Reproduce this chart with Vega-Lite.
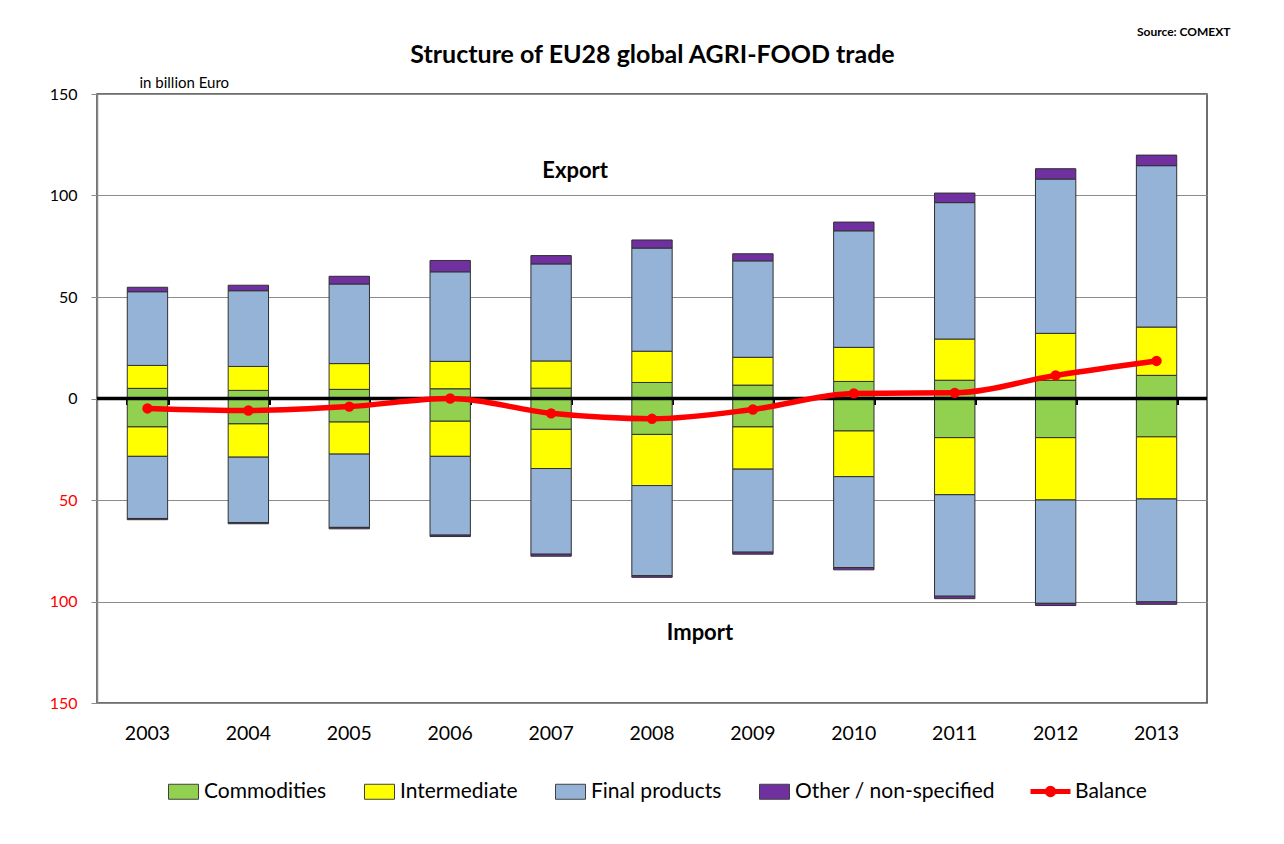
{
  "$schema": "https://vega.github.io/schema/vega-lite/v6.json",
  "width": 1110,
  "height": 609,
  "autosize": "none",
  "padding": {"left": 97, "top": 94, "right": 77, "bottom": 141},
  "background": "white",
  "config": {
    "font": "Lato",
    "view": {"stroke": "#404040", "strokeWidth": 1.5},
    "axis": {"labelColor": "black", "titleColor": "black"}
  },
  "datasets": {
    "trade": [
      {"year": "2003", "flow": "Export", "category": "Commodities", "value": 5.0},
      {"year": "2003", "flow": "Export", "category": "Intermediate", "value": 11.3},
      {"year": "2003", "flow": "Export", "category": "Final products", "value": 36.3},
      {"year": "2003", "flow": "Export", "category": "Other / non-specified", "value": 2.2},
      {"year": "2003", "flow": "Import", "category": "Commodities", "value": -14.0},
      {"year": "2003", "flow": "Import", "category": "Intermediate", "value": -14.5},
      {"year": "2003", "flow": "Import", "category": "Final products", "value": -30.6},
      {"year": "2003", "flow": "Import", "category": "Other / non-specified", "value": -0.6},
      {"year": "2004", "flow": "Export", "category": "Commodities", "value": 4.0},
      {"year": "2004", "flow": "Export", "category": "Intermediate", "value": 11.8},
      {"year": "2004", "flow": "Export", "category": "Final products", "value": 37.3},
      {"year": "2004", "flow": "Export", "category": "Other / non-specified", "value": 2.7},
      {"year": "2004", "flow": "Import", "category": "Commodities", "value": -12.5},
      {"year": "2004", "flow": "Import", "category": "Intermediate", "value": -16.4},
      {"year": "2004", "flow": "Import", "category": "Final products", "value": -32.2},
      {"year": "2004", "flow": "Import", "category": "Other / non-specified", "value": -0.6},
      {"year": "2005", "flow": "Export", "category": "Commodities", "value": 4.5},
      {"year": "2005", "flow": "Export", "category": "Intermediate", "value": 12.7},
      {"year": "2005", "flow": "Export", "category": "Final products", "value": 39.2},
      {"year": "2005", "flow": "Export", "category": "Other / non-specified", "value": 3.8},
      {"year": "2005", "flow": "Import", "category": "Commodities", "value": -11.6},
      {"year": "2005", "flow": "Import", "category": "Intermediate", "value": -15.8},
      {"year": "2005", "flow": "Import", "category": "Final products", "value": -36.1},
      {"year": "2005", "flow": "Import", "category": "Other / non-specified", "value": -0.7},
      {"year": "2006", "flow": "Export", "category": "Commodities", "value": 4.8},
      {"year": "2006", "flow": "Export", "category": "Intermediate", "value": 13.5},
      {"year": "2006", "flow": "Export", "category": "Final products", "value": 44.1},
      {"year": "2006", "flow": "Export", "category": "Other / non-specified", "value": 5.6},
      {"year": "2006", "flow": "Import", "category": "Commodities", "value": -11.2},
      {"year": "2006", "flow": "Import", "category": "Intermediate", "value": -17.3},
      {"year": "2006", "flow": "Import", "category": "Final products", "value": -38.8},
      {"year": "2006", "flow": "Import", "category": "Other / non-specified", "value": -0.7},
      {"year": "2007", "flow": "Export", "category": "Commodities", "value": 5.1},
      {"year": "2007", "flow": "Export", "category": "Intermediate", "value": 13.4},
      {"year": "2007", "flow": "Export", "category": "Final products", "value": 47.8},
      {"year": "2007", "flow": "Export", "category": "Other / non-specified", "value": 4.1},
      {"year": "2007", "flow": "Import", "category": "Commodities", "value": -15.2},
      {"year": "2007", "flow": "Import", "category": "Intermediate", "value": -19.3},
      {"year": "2007", "flow": "Import", "category": "Final products", "value": -42.2},
      {"year": "2007", "flow": "Import", "category": "Other / non-specified", "value": -1.0},
      {"year": "2008", "flow": "Export", "category": "Commodities", "value": 7.9},
      {"year": "2008", "flow": "Export", "category": "Intermediate", "value": 15.4},
      {"year": "2008", "flow": "Export", "category": "Final products", "value": 50.8},
      {"year": "2008", "flow": "Export", "category": "Other / non-specified", "value": 4.0},
      {"year": "2008", "flow": "Import", "category": "Commodities", "value": -17.7},
      {"year": "2008", "flow": "Import", "category": "Intermediate", "value": -25.2},
      {"year": "2008", "flow": "Import", "category": "Final products", "value": -44.4},
      {"year": "2008", "flow": "Import", "category": "Other / non-specified", "value": -0.8},
      {"year": "2009", "flow": "Export", "category": "Commodities", "value": 6.6},
      {"year": "2009", "flow": "Export", "category": "Intermediate", "value": 13.7},
      {"year": "2009", "flow": "Export", "category": "Final products", "value": 47.5},
      {"year": "2009", "flow": "Export", "category": "Other / non-specified", "value": 3.5},
      {"year": "2009", "flow": "Import", "category": "Commodities", "value": -14.0},
      {"year": "2009", "flow": "Import", "category": "Intermediate", "value": -20.8},
      {"year": "2009", "flow": "Import", "category": "Final products", "value": -40.9},
      {"year": "2009", "flow": "Import", "category": "Other / non-specified", "value": -1.0},
      {"year": "2010", "flow": "Export", "category": "Commodities", "value": 8.4},
      {"year": "2010", "flow": "Export", "category": "Intermediate", "value": 16.8},
      {"year": "2010", "flow": "Export", "category": "Final products", "value": 57.4},
      {"year": "2010", "flow": "Export", "category": "Other / non-specified", "value": 4.3},
      {"year": "2010", "flow": "Import", "category": "Commodities", "value": -16.0},
      {"year": "2010", "flow": "Import", "category": "Intermediate", "value": -22.5},
      {"year": "2010", "flow": "Import", "category": "Final products", "value": -44.8},
      {"year": "2010", "flow": "Import", "category": "Other / non-specified", "value": -1.1},
      {"year": "2011", "flow": "Export", "category": "Commodities", "value": 9.0},
      {"year": "2011", "flow": "Export", "category": "Intermediate", "value": 20.3},
      {"year": "2011", "flow": "Export", "category": "Final products", "value": 67.2},
      {"year": "2011", "flow": "Export", "category": "Other / non-specified", "value": 4.7},
      {"year": "2011", "flow": "Import", "category": "Commodities", "value": -19.3},
      {"year": "2011", "flow": "Import", "category": "Intermediate", "value": -28.1},
      {"year": "2011", "flow": "Import", "category": "Final products", "value": -50.0},
      {"year": "2011", "flow": "Import", "category": "Other / non-specified", "value": -1.2},
      {"year": "2012", "flow": "Export", "category": "Commodities", "value": 9.0},
      {"year": "2012", "flow": "Export", "category": "Intermediate", "value": 23.1},
      {"year": "2012", "flow": "Export", "category": "Final products", "value": 76.0},
      {"year": "2012", "flow": "Export", "category": "Other / non-specified", "value": 5.1},
      {"year": "2012", "flow": "Import", "category": "Commodities", "value": -19.3},
      {"year": "2012", "flow": "Import", "category": "Intermediate", "value": -30.7},
      {"year": "2012", "flow": "Import", "category": "Final products", "value": -50.9},
      {"year": "2012", "flow": "Import", "category": "Other / non-specified", "value": -1.1},
      {"year": "2013", "flow": "Export", "category": "Commodities", "value": 11.4},
      {"year": "2013", "flow": "Export", "category": "Intermediate", "value": 23.8},
      {"year": "2013", "flow": "Export", "category": "Final products", "value": 79.5},
      {"year": "2013", "flow": "Export", "category": "Other / non-specified", "value": 5.2},
      {"year": "2013", "flow": "Import", "category": "Commodities", "value": -18.9},
      {"year": "2013", "flow": "Import", "category": "Intermediate", "value": -30.6},
      {"year": "2013", "flow": "Import", "category": "Final products", "value": -50.7},
      {"year": "2013", "flow": "Import", "category": "Other / non-specified", "value": -1.2}
    ],
    "balance": [
      {"year": "2003", "balance": -4.9},
      {"year": "2004", "balance": -5.9},
      {"year": "2005", "balance": -4.0},
      {"year": "2006", "balance": 0.0},
      {"year": "2007", "balance": -7.3},
      {"year": "2008", "balance": -10.0},
      {"year": "2009", "balance": -5.4},
      {"year": "2010", "balance": 2.5},
      {"year": "2011", "balance": 2.8},
      {"year": "2012", "balance": 11.4},
      {"year": "2013", "balance": 18.5}
    ]
  },
  "layer": [
    {
      "data": {"name": "trade"},
      "transform": [
        {"calculate": "indexof(['Commodities','Intermediate','Final products','Other / non-specified'], datum.category)", "as": "stackOrder"}
      ],
      "mark": {"type": "bar", "stroke": "#303030", "strokeWidth": 1},
      "encoding": {
        "x": {
          "field": "year", "type": "ordinal",
          "scale": {"paddingInner": 0.6, "paddingOuter": 0.3},
          "axis": {"orient": "bottom", "title": null, "labelAngle": 0, "labelFontSize": 19.5, "labelPadding": 21, "ticks": false, "domain": false, "grid": false}
        },
        "y": {
          "field": "value", "type": "quantitative", "stack": "zero",
          "scale": {"domain": [-150, 150], "nice": false},
          "axis": {
            "orient": "left",
            "values": [-150, -100, -50, 0, 50, 100, 150],
            "labelExpr": "abs(datum.value)",
            "labelColor": {"condition": {"test": "datum.value < 0", "value": "#FF0000"}, "value": "black"},
            "labelFontSize": 16, "labelPadding": 14,
            "tickSize": 6, "tickColor": "#8c8c8c",
            "domainColor": "#868686", "domainWidth": 1.5,
            "grid": true, "gridColor": "#8c8c8c", "gridWidth": 1,
            "title": "in billion Euro", "titleAngle": 0, "titleX": 42, "titleY": -12,
            "titleAlign": "left", "titleBaseline": "middle", "titleFontWeight": "normal", "titleFontSize": 15
          }
        },
        "order": {"field": "stackOrder", "type": "quantitative", "sort": "ascending"},
        "color": {
          "field": "category", "type": "nominal",
          "sort": ["Commodities", "Intermediate", "Final products", "Other / non-specified"],
          "scale": {
            "domain": ["Commodities", "Intermediate", "Final products", "Other / non-specified"],
            "range": ["#92D050", "#FFFF00", "#95B3D7", "#7030A0"]
          },
          "legend": {
            "orient": "none", "legendX": 71, "legendY": 682, "title": null,
            "direction": "horizontal", "padding": 0,
            "symbolType": "M-1,-0.5H1V0.5H-1Z", "symbolSize": 900,
            "symbolStrokeColor": "#404040", "symbolStrokeWidth": 1, "symbolOpacity": 1,
            "labelFontSize": 21, "labelOffset": 5, "columnPadding": 35, "labelColor": "black", "labelLimit": 400
          }
        }
      }
    },
    {
      "data": {"values": [{}]},
      "mark": {"type": "rule", "color": "black", "strokeWidth": 3.5},
      "encoding": {"y": {"datum": 0, "axis": null}}
    },
    {
      "data": {"name": "balance"},
      "mark": {"type": "line", "interpolate": "monotone", "strokeWidth": 5.5, "point": {"filled": true, "size": 70, "fill": "#FF0000"}},
      "encoding": {
        "x": {
          "field": "year", "type": "ordinal",
          "scale": {"paddingInner": 0.6, "paddingOuter": 0.3},
          "axis": {
            "orient": "bottom", "offset": -304.5, "labels": false, "domain": false,
            "ticks": true, "tickBand": "extent", "tickColor": "black", "tickWidth": 3, "tickSize": 6, "grid": false,
            "title": "Structure of EU28 global AGRI-FOOD trade", "titleX": 555, "titleY": -336.5,
            "titleFontSize": 25, "titleFontWeight": "bold", "titleAlign": "center", "titleBaseline": "alphabetic"
          }
        },
        "y": {
          "field": "balance", "type": "quantitative",
          "scale": {"domain": [-150, 150], "nice": false},
          "axis": {
            "orient": "right", "labels": false, "ticks": false, "domain": false, "grid": false,
            "title": "Source: COMEXT", "titleAngle": 0, "titleX": 23, "titleY": -63,
            "titleAlign": "right", "titleBaseline": "middle", "titleFontSize": 12, "titleFontWeight": "bold"
          }
        },
        "stroke": {
          "datum": "Balance",
          "scale": {"range": ["#FF0000"]},
          "legend": {
            "orient": "none", "legendX": 931, "legendY": 675, "title": null, "padding": 0,
            "symbolType": "M-1,0H1M0.16,0A0.16,0.16 0 1 1 -0.16,0A0.16,0.16 0 1 1 0.16,0Z",
            "symbolSize": 1600, "symbolStrokeWidth": 5, "symbolStrokeColor": "#FF0000", "symbolFillColor": "#FF0000",
            "labelFontSize": 21, "labelOffset": 2, "labelColor": "black"
          }
        }
      }
    },
    {
      "data": {"values": [{}]},
      "mark": {"type": "text", "text": "Export", "fontSize": 22, "fontWeight": "bold", "dx": 24, "color": "black"},
      "encoding": {"x": {"datum": "2007", "axis": null}, "y": {"datum": 112, "axis": null}}
    },
    {
      "data": {"values": [{}]},
      "mark": {"type": "text", "text": "Import", "fontSize": 22, "fontWeight": "bold", "dx": 48, "color": "black"},
      "encoding": {"x": {"datum": "2008", "axis": null}, "y": {"datum": -115.5, "axis": null}}
    }
  ],
  "resolve": {"axis": {"x": "independent", "y": "independent"}}
}
